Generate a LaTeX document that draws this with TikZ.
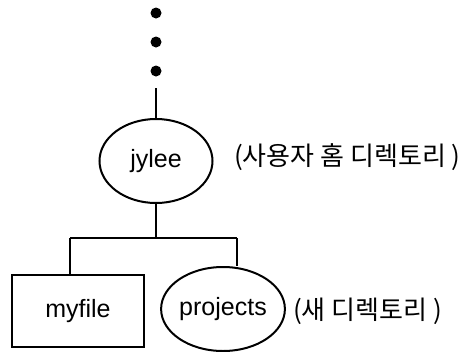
\documentclass[tikz,border=0pt]{standalone}
\usepackage{fontspec}
\setmainfont{Liberation Sans}
\newfontfamily\kr{Noto Sans CJK KR}
\usetikzlibrary{shapes.geometric}
\begin{document}
\begin{tikzpicture}[x=1pt,y=-1pt,
  conn/.style={line width=2pt},
  dotnode/.style={circle,fill=black,inner sep=0pt,minimum size=11pt},
  dirnode/.style={ellipse,draw,line width=2pt,fill=white,minimum width=113pt,minimum height=84pt,inner sep=0pt,font=\fontsize{25}{28}\selectfont},
  filenode/.style={rectangle,draw,line width=2pt,fill=white,minimum width=132pt,minimum height=72pt,inner sep=0pt,font=\fontsize{25}{28}\selectfont},
  note/.style={anchor=west,inner sep=0pt,font=\kr\fontsize{26}{30}\selectfont}]
\useasboundingbox (0,0) rectangle (463,351);
\node[dotnode] (d1) at (156,13) {};
\node[dotnode] (d2) at (156,42) {};
\node[dotnode] (d3) at (156,71) {};
\coordinate (top) at (156,88);
\node[dirnode] (jylee) at (156,161) {jylee};
\node[note] (lab1) at (234,157) {(사용자 홈 디렉토리 )};
\coordinate (j) at (156,238);
\coordinate (jl) at (70,238);
\coordinate (jr) at (237,238);
\node[filenode] (myfile) at (78,311) {myfile};
\node[dirnode,minimum width=112pt] (projects) at (223,309) {projects};
\node[note] (lab2) at (293,311) {(새 디렉토리 )};
\draw[conn] (top) -- (jylee);
\draw[conn] (jylee) -- (j);
\draw[conn] (jl) -- (jr);
\draw[conn] (jl) -- (jl |- myfile.north);
\draw[conn] (jr) -- (jr |- projects.north);
\end{tikzpicture}
\end{document}
